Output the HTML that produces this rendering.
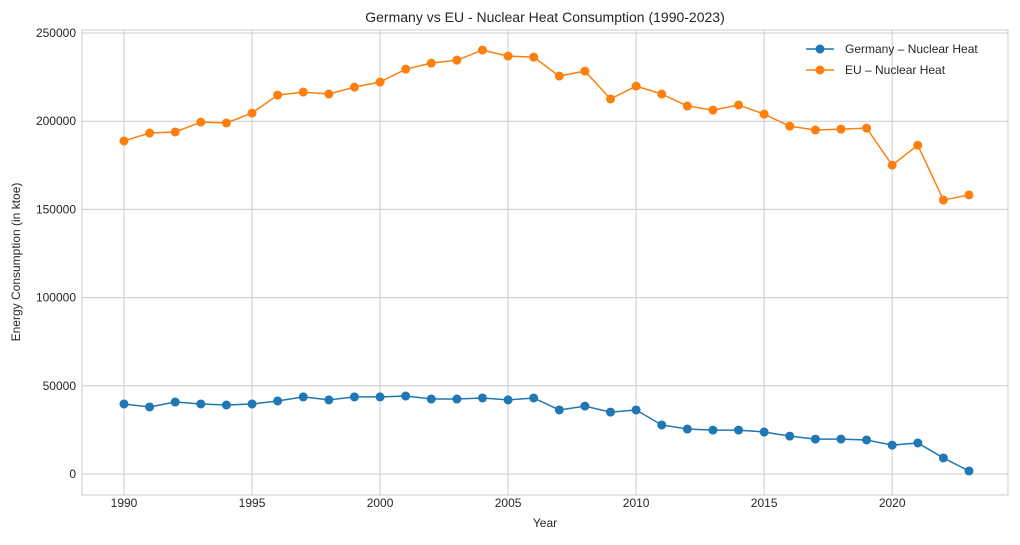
<!DOCTYPE html>
<html><head><meta charset="utf-8"><style>
body{margin:0;background:#fff;font-family:"Liberation Sans","DejaVu Sans",sans-serif}
svg text{font-family:"Liberation Sans","DejaVu Sans",sans-serif;fill:#262626}
</style></head><body>
<svg id="chart" width="1020" height="540" viewBox="0 0 1020 540" xmlns="http://www.w3.org/2000/svg">
<rect width="1020" height="540" fill="#fff"/>
<g id="grid"></g>
<rect x="82" y="30" width="926" height="465" fill="none" stroke="#ccc" stroke-width="1"/>
<g id="ticks"></g>
<g id="series"></g>
<text x="545" y="22" text-anchor="middle" font-size="14">Germany vs EU - Nuclear Heat Consumption (1990-2023)</text>
<text x="545" y="527" text-anchor="middle" font-size="12">Year</text>
<text transform="translate(20,262) rotate(-90)" text-anchor="middle" font-size="12">Energy Consumption (in ktoe)</text>
<g>
<g><line x1="806" y1="49" x2="834" y2="49" stroke="#1f77b4" stroke-width="1.5"/><circle cx="820" cy="49" r="4.5" fill="#1f77b4"/><text x="845" y="53" font-size="12">Germany – Nuclear Heat</text></g>
<g><line x1="806" y1="70" x2="834" y2="70" stroke="#ff7f0e" stroke-width="1.5"/><circle cx="820" cy="70" r="4.5" fill="#ff7f0e"/><text x="845" y="74" font-size="12">EU – Nuclear Heat</text></g>
</g>
</svg>
<script>
const years=[1990,1991,1992,1993,1994,1995,1996,1997,1998,1999,2000,2001,2002,2003,2004,2005,2006,2007,2008,2009,2010,2011,2012,2013,2014,2015,2016,2017,2018,2019,2020,2021,2022,2023];
const germany=[39700,38000,40800,39700,39100,39700,41400,43700,42000,43700,43700,44200,42500,42500,43100,42000,43100,36300,38500,35100,36300,27800,25500,24900,24900,23800,21500,19800,19800,19300,16400,17600,9100,1700];
const eu=[188800,193300,193900,199500,199000,204600,214800,216500,215400,219300,222200,229500,232900,234600,240300,236900,236300,225600,228400,212600,219900,215400,208600,206300,209200,204000,197200,195000,195500,196100,175100,186400,155300,158200];
const xTicks=[1990,1995,2000,2005,2010,2015,2020];
const yTicks=[0,50000,100000,150000,200000,250000];
const NS='http://www.w3.org/2000/svg';
const xs=v=>124+(v-1990)*(845/33);
const ys=v=>474-v*(441/250000);
function mk(t,a,p){const e=document.createElementNS(NS,t);for(const k in a)e.setAttribute(k,a[k]);p.appendChild(e);return e;}
const grid=document.getElementById('grid'),ticks=document.getElementById('ticks'),ser=document.getElementById('series');
xTicks.forEach(t=>{const x=xs(t);
const g=mk('line',{x1:x,x2:x,y1:30,y2:495,stroke:'#ccc','stroke-width':1},grid);


const l=mk('text',{x:x,y:507,'text-anchor':'middle','font-size':12},ticks);l.textContent=t;

});
yTicks.forEach(t=>{const y=ys(t);
const g=mk('line',{x1:82,x2:1008,y1:y,y2:y,stroke:'#ccc','stroke-width':1},grid);


const l=mk('text',{x:76,y:y+4,'text-anchor':'end','font-size':12},ticks);l.textContent=t;

});
function draw(data,color,name){
const pl=mk('polyline',{points:data.map((v,i)=>xs(years[i])+','+ys(v)).join(' '),fill:'none',stroke:color,'stroke-width':1.5},ser);


data.forEach((v,i)=>{const c=mk('circle',{cx:xs(years[i]),cy:ys(v),r:4.5,fill:color},ser);

});}
draw(germany,'#1f77b4','germany');
draw(eu,'#ff7f0e','eu');
</script>
</body></html>
